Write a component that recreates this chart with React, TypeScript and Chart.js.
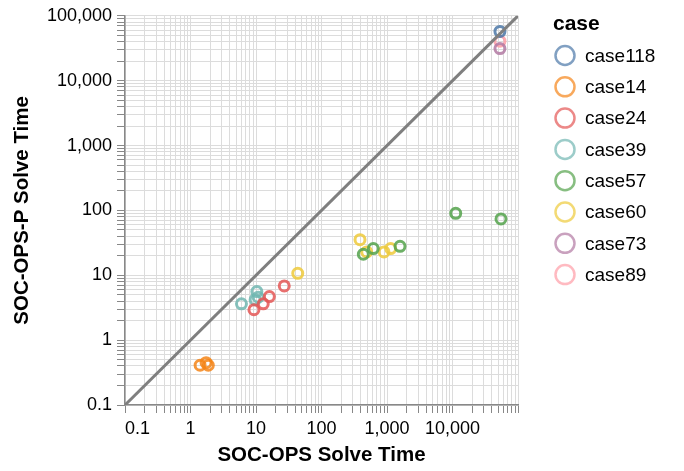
import React, { useEffect, useRef } from "react";
import { Chart, registerables } from "chart.js";

Chart.register(...registerables);

// ---- data ----
const CASES = ["case118", "case14", "case24", "case39", "case57", "case60", "case73", "case89"];
const COLORS = ["#4c78a8", "#f58518", "#e45756", "#72b7b2", "#54a24b", "#eeca3b", "#b279a2", "#ff9da6"];

// SOC-OPS solve time (x) and SOC-OPS-P solve time (y) per case
const CASE118_X = [53000];
const CASE118_Y = [57500];
const CASE14_X = [1.4, 1.73, 1.87];
const CASE14_Y = [0.41, 0.45, 0.41];
const CASE24_X = [9.3, 12.9, 16, 27];
const CASE24_Y = [2.94, 3.63, 4.69, 6.84];
const CASE39_X = [6.0, 10.3, 10.8, 9.7];
const CASE39_Y = [3.63, 5.6, 4.6, 4.2];
const CASE57_X = [11200, 55000, 1580, 618, 435];
const CASE57_Y = [90, 74, 27.9, 25.8, 21.1];
const CASE60_X = [43.4, 387, 490, 900, 1137];
const CASE60_Y = [10.7, 35.4, 22.9, 22.9, 25.8];
const CASE73_X = [53000];
const CASE73_Y = [31200];
const CASE89_X = [53000];
const CASE89_Y = [40600];

const CASE_X = [CASE118_X, CASE14_X, CASE24_X, CASE39_X, CASE57_X, CASE60_X, CASE73_X, CASE89_X];
const CASE_Y = [CASE118_Y, CASE14_Y, CASE24_Y, CASE39_Y, CASE57_Y, CASE60_Y, CASE73_Y, CASE89_Y];

const AXIS_RANGE = [0.1, 100000]; // both axes; diagonal y = x spans it
const X_TITLE = "SOC-OPS Solve Time";
const Y_TITLE = "SOC-OPS-P Solve Time";
const LEGEND_TITLE = "case";

const FONT = '"Liberation Sans", Arial, Helvetica, sans-serif';

function hexA(hex: string, a: number) {
  const n = parseInt(hex.slice(1), 16);
  return `rgba(${(n >> 16) & 255},${(n >> 8) & 255},${n & 255},${a})`;
}

function isPow10(v: number) {
  const l = Math.log10(v);
  return Math.abs(l - Math.round(l)) < 1e-9;
}

function keepIntegerMantissa(scale: any) {
  scale.ticks = scale.ticks.filter((t: any) => {
    const e = Math.floor(Math.log10(t.value) + 1e-9);
    const m = t.value / Math.pow(10, e);
    return Math.abs(m - Math.round(m)) < 1e-6;
  });
}

const legendPlugin = {
  id: "caseLegend",
  afterDraw(chart: any) {
    const ctx = chart.ctx;
    ctx.save();
    ctx.textAlign = "left";
    ctx.textBaseline = "middle";
    ctx.fillStyle = "#000";
    ctx.font = `bold 21px ${FONT}`;
    ctx.fillText(LEGEND_TITLE, 553, 24);
    ctx.font = `19px ${FONT}`;
    let i = 0;
    chart.data.datasets.forEach((ds: any) => {
      if (ds.isLegendItem !== true) return;
      const y = 55.5 + i * 31.3;
      ctx.beginPath();
      ctx.arc(565, y, 9.5, 0, Math.PI * 2);
      ctx.lineWidth = 2.5;
      ctx.strokeStyle = ds.legendColor;
      ctx.stroke();
      ctx.fillStyle = "#000";
      ctx.fillText(ds.label, 585, y + 1);
      i++;
    });
    ctx.restore();
  },
};

export default function App() {
  const ref = useRef<HTMLCanvasElement | null>(null);

  useEffect(() => {
    if (!ref.current) return;
    const scatterSets = CASES.map((name, i) => ({
      type: "scatter" as const,
      label: name,
      data: CASE_X[i].map((x, j) => ({ x, y: CASE_Y[i][j] })),
      borderColor: hexA(COLORS[i], 0.85),
      backgroundColor: "rgba(0,0,0,0)",
      pointRadius: 5,
      pointBorderWidth: 3,
      pointHoverRadius: 5,
      order: 1,
      isLegendItem: true,
      legendColor: hexA(COLORS[i], 0.7),
    }));
    const diagonal = {
      type: "line" as const,
      label: "y = x",
      data: AXIS_RANGE.map((v) => ({ x: v, y: v })),
      borderColor: "#7f7f7f",
      borderWidth: 3,
      pointRadius: 0,
      fill: false,
      order: 0,
    };

    const gridCommon = {
      color: "#dcdcdc",
      lineWidth: 1,
      tickColor: "#888888",
      tickLength: 8,
      tickWidth: 1,
      drawTicks: true,
    };

    const chart = new Chart(ref.current, {
      type: "scatter",
      data: { datasets: [...scatterSets, diagonal] as any },
      plugins: [legendPlugin],
      options: {
        animation: false,
        responsive: false,
        devicePixelRatio: 1,
        layout: { padding: { top: 13.5, right: 166, bottom: 0, left: 0 } },
        plugins: { legend: { display: false }, tooltip: { enabled: false } },
        scales: {
          x: {
            type: "logarithmic",
            min: AXIS_RANGE[0],
            max: AXIS_RANGE[1],
            afterBuildTicks: keepIntegerMantissa,
            afterFit: (s: any) => {
              s.height = 66;
            },
            grid: gridCommon,
            border: { color: "#888888", width: 1.5 },
            ticks: {
              autoSkip: false,
              maxRotation: 0,
              align: "inner",
              padding: 5,
              color: "#000",
              font: { family: FONT, size: 18 },
              callback: (v: any) => {
                const n = Number(v);
                if (!isPow10(n) || n >= AXIS_RANGE[1]) return "";
                return n.toLocaleString("en-US");
              },
            },
            title: {
              display: true,
              text: X_TITLE,
              color: "#000",
              font: { family: FONT, size: 20.5, weight: "bold" },
              padding: { top: 0, bottom: 3 },
            },
          },
          y: {
            type: "logarithmic",
            min: AXIS_RANGE[0],
            max: AXIS_RANGE[1],
            afterBuildTicks: keepIntegerMantissa,
            afterFit: (s: any) => {
              s.width = 125;
            },
            grid: gridCommon,
            border: { color: "#888888", width: 1.5 },
            ticks: {
              autoSkip: false,
              padding: 5,
              color: "#000",
              font: { family: FONT, size: 18 },
              callback: (v: any) => {
                const n = Number(v);
                if (!isPow10(n)) return "";
                return n.toLocaleString("en-US");
              },
            },
            title: {
              display: true,
              text: Y_TITLE,
              color: "#000",
              font: { family: FONT, size: 20.5, weight: "bold" },
              padding: { top: 10, bottom: 0 },
            },
          },
        },
      } as any,
    });
    return () => chart.destroy();
  }, []);

  return (
    <div style={{ position: "fixed", left: 0, top: 0, width: 684, height: 471, background: "#fff" }}>
      <canvas ref={ref} width={684} height={471} style={{ display: "block" }} />
    </div>
  );
}
